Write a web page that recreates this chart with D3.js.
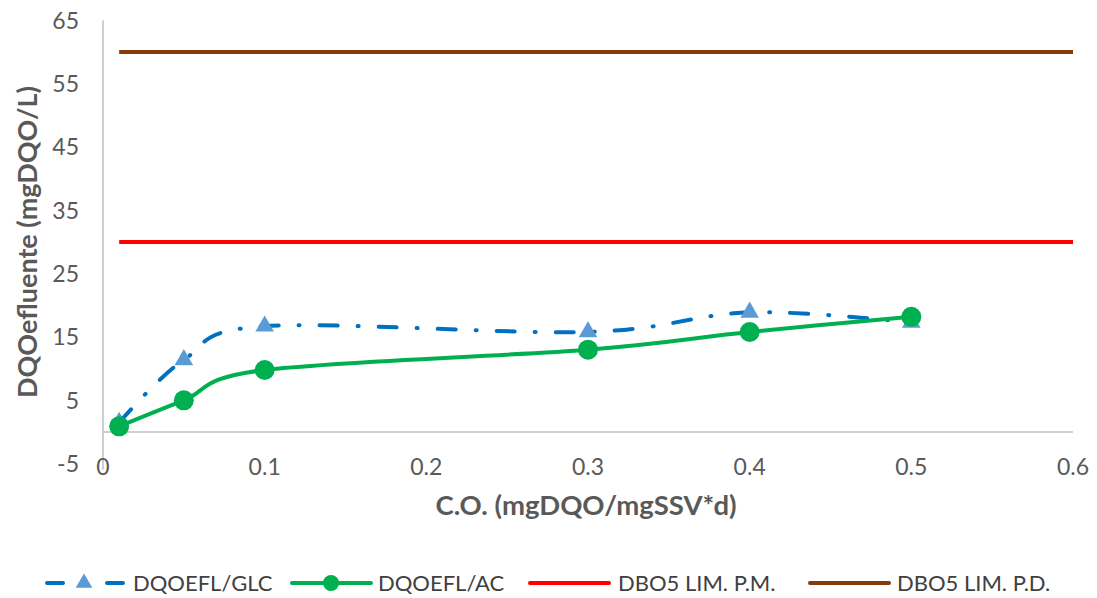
<!DOCTYPE html>
<html><head><meta charset="utf-8">
<script src="https://cdn.jsdelivr.net/npm/d3@7"></script>
<style>
body{margin:0;background:#fff;}
text{font-family:Lato,"Open Sans",sans-serif;}
</style></head>
<body><svg id="c" width="1097" height="598"></svg>
<script>
const xCO = [0.01, 0.05, 0.1, 0.3, 0.4, 0.5];
const glc = [1.5, 11.4, 16.7, 15.8, 18.9, 17.3];
const ac = [0.9, 5.0, 9.8, 13.0, 15.8, 18.2];
const limPM = 30, limPD = 60;
const limX = [0.01, 0.6];
const xTicks = [0, 0.1, 0.2, 0.3, 0.4, 0.5, 0.6];
const yTicks = [-5, 5, 15, 25, 35, 45, 55, 65];
const seriesNames = ["DQOEFL/GLC", "DQOEFL/AC", "DBO5 LIM. P.M.", "DBO5 LIM. P.D."];

const svg = d3.select("#c");
const x = d3.scaleLinear().domain([0, 0.6]).range([103, 1073]);
const y = d3.scaleLinear().domain([-5, 65]).range([463.7, 20.3]);
const grey = "#595959";

// axes lines
svg.append("line").attr("x1", x(0)).attr("x2", x(0)).attr("y1", y(65)).attr("y2", y(-5)+6)
  .attr("stroke", "#bfbfbf").attr("stroke-width", 1.5);
svg.append("line").attr("x1", x(0)).attr("x2", x(0.6)).attr("y1", y(0)).attr("y2", y(0))
  .attr("stroke", "#bfbfbf").attr("stroke-width", 1.5);

// y tick labels
svg.append("g").selectAll("text").data(yTicks).join("text")
  .attr("x", 79).attr("y", d => y(d)).attr("dy", "0.36em").attr("text-anchor", "end")
  .attr("fill", grey).attr("font-size", 23).text(d => d);
// x tick labels
svg.append("g").selectAll("text").data(xTicks).join("text")
  .attr("x", d => x(d)).attr("y", 467).attr("dy", "0.36em").attr("text-anchor", "middle")
  .attr("fill", grey).attr("font-size", 23).text(d => d);

// titles
svg.append("text").attr("transform", `translate(27,242) rotate(-90)`).attr("text-anchor", "middle")
  .attr("dy", "0.36em").attr("fill", grey).attr("font-size", 27).attr("font-weight", "bold")
  .text("DQOefluente (mgDQO/L)");
svg.append("text").attr("x", 586).attr("y", 505).attr("dy", "0.36em").attr("text-anchor", "middle")
  .attr("fill", grey).attr("font-size", 27.5).attr("font-weight", "bold")
  .text("C.O. (mgDQO/mgSSV*d)");

// limit lines
svg.append("line").attr("x1", x(limX[0])).attr("x2", x(limX[1])).attr("y1", y(limPM)).attr("y2", y(limPM))
  .attr("stroke", "#ff0000").attr("stroke-width", 4);
svg.append("line").attr("x1", x(limX[0])).attr("x2", x(limX[1])).attr("y1", y(limPD)).attr("y2", y(limPD))
  .attr("stroke", "#843c0c").attr("stroke-width", 4);

const line = d3.line().x((d, i) => x(xCO[i])).y(d => y(d)).curve(d3.curveCardinal.tension(0));

// GLC
svg.append("path").datum(glc).attr("d", line).attr("fill", "none").attr("stroke", "#0070c0")
  .attr("stroke-width", 4).attr("stroke-dasharray", "18,20,1,20").attr("stroke-linecap", "round");
const tri = d3.symbol().type(d3.symbolTriangle).size(150);
svg.append("g").selectAll("path").data(glc).join("path")
  .attr("d", tri).attr("transform", (d, i) => `translate(${x(xCO[i])},${y(d)})`).attr("fill", "#5b9bd5");

// AC
svg.append("path").datum(ac).attr("d", line).attr("fill", "none").attr("stroke", "#00b050")
  .attr("stroke-width", 4);
svg.append("g").selectAll("circle").data(ac).join("circle")
  .attr("cx", (d, i) => x(xCO[i])).attr("cy", d => y(d)).attr("r", 10).attr("fill", "#00b050");

// legend
const lg = svg.append("g");
const ly = 583;
const textX = [133, 378, 618, 897];
lg.append("line").attr("x1", 47).attr("x2", 123).attr("y1", ly).attr("y2", ly).attr("stroke", "#0070c0")
  .attr("stroke-width", 4).attr("stroke-dasharray", "16,44,16").attr("stroke-linecap", "round");
lg.append("path").attr("d", d3.symbol().type(d3.symbolTriangle).size(120)).attr("transform", `translate(84,${ly})`).attr("fill", "#5b9bd5");
lg.append("line").attr("x1", 292).attr("x2", 371).attr("y1", ly).attr("y2", ly).attr("stroke", "#00b050").attr("stroke-width", 4).attr("stroke-linecap", "round");
lg.append("circle").attr("cx", 331).attr("cy", ly).attr("r", 8).attr("fill", "#00b050");
lg.append("line").attr("x1", 530).attr("x2", 609).attr("y1", ly).attr("y2", ly).attr("stroke", "#ff0000").attr("stroke-width", 4).attr("stroke-linecap", "round");
lg.append("line").attr("x1", 810).attr("x2", 889).attr("y1", ly).attr("y2", ly).attr("stroke", "#843c0c").attr("stroke-width", 4).attr("stroke-linecap", "round");
lg.selectAll("text.l").data(seriesNames).join("text").attr("class", "l")
  .attr("x", (d, i) => textX[i]).attr("y", ly).attr("dy", "0.36em")
  .attr("fill", "#404040").attr("font-size", 22).text(d => d);
</script></body></html>
